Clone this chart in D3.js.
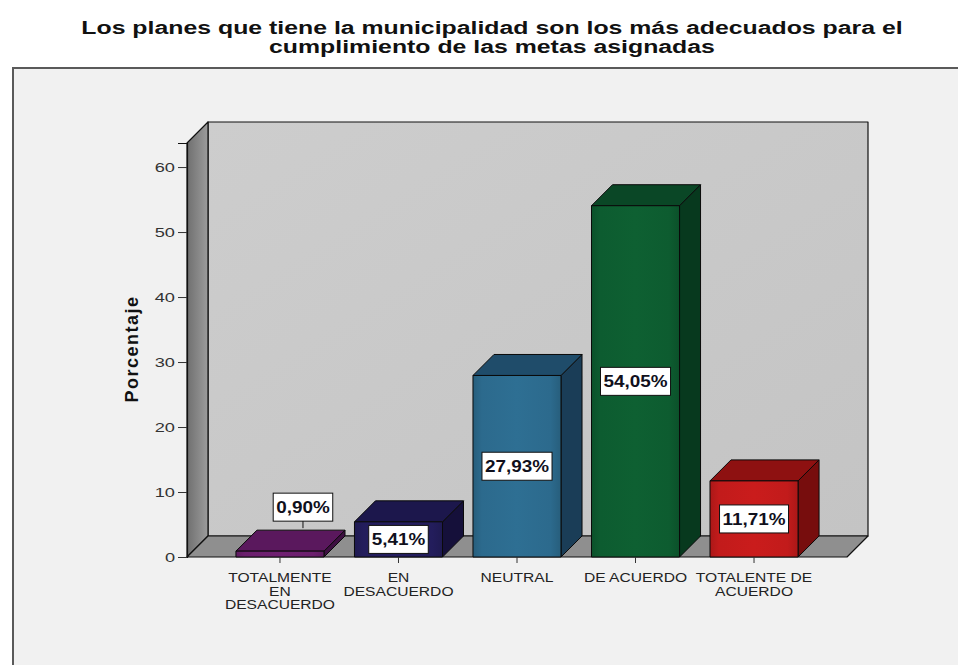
<!DOCTYPE html>
<html>
<head>
<meta charset="utf-8">
<script src="https://cdn.jsdelivr.net/npm/d3@7/dist/d3.min.js"></script>
<style>
  html, body { margin: 0; padding: 0; background: #ffffff; }
  svg { display: block; font-family: Arial, "Liberation Sans", sans-serif; }
</style>
</head>
<body>
<svg id="chart" width="958" height="665"></svg>
<script>
// Survey answers and their share of respondents (%)
const categories = ["TOTALMENTE EN DESACUERDO", "EN DESACUERDO", "NEUTRAL", "DE ACUERDO", "TOTALENTE DE ACUERDO"];
const categoryLines = [["TOTALMENTE", "EN", "DESACUERDO"], ["EN", "DESACUERDO"], ["NEUTRAL"], ["DE ACUERDO"], ["TOTALENTE DE", "ACUERDO"]];
const percentages = [0.90, 5.41, 27.93, 54.05, 11.71];
const valueLabels = ["0,90%", "5,41%", "27,93%", "54,05%", "11,71%"];
const yTicks = [0, 10, 20, 30, 40, 50, 60];
const titleLines = ["Los planes que tiene la municipalidad son los más adecuados para el", "cumplimiento de las metas asignadas"];
const yTitle = "Porcentaje";

// face colours per bar: front, top, side
const barColors = [
  { front: "#6b1f6d", top: "#5a185d", side: "#3e0f42" },
  { front: "#231d5c", top: "#1c174c", side: "#15103a" },
  { front: "#2c6a8d", top: "#1f4c6a", side: "#1a3d57" },
  { front: "#0d5c30", top: "#0a4726", side: "#07391e" },
  { front: "#c21b1b", top: "#8e1111", side: "#770d0d" }
];

const svg = d3.select("#chart");

// widen glyphs horizontally (the chart's wide lettering)
function widen(sel, factor) {
  sel.each(function () {
    const len = this.getComputedTextLength();
    d3.select(this).attr("textLength", len * factor).attr("lengthAdjust", "spacingAndGlyphs");
  });
}

// outer chart frame
svg.append("rect").attr("x", 13).attr("y", 68).attr("width", 960).attr("height", 620)
  .attr("fill", "#f1f1f1").attr("stroke", "#5a5a5a").attr("stroke-width", 2);

// title
const title = svg.append("text").attr("text-anchor", "middle")
  .attr("font-size", 18).attr("font-weight", "bold").attr("fill", "#111");
titleLines.forEach((t, i) => {
  title.append("tspan").attr("x", 492).attr("y", 34 + i * 19).text(t);
});
widen(title.selectAll("tspan"), 1.38);

// 3D plot geometry
const left = 187, right = 847, bottom = 557;
const depth = { dx: 21, dy: -21 };
const y = d3.scaleLinear().domain([0, 63.7]).range([bottom, 143]);
const x = d3.scaleBand().domain(categories).range([left, right])
  .paddingInner(0.257).paddingOuter(0.413);

const defs = svg.append("defs");
const sideGrad = defs.append("linearGradient").attr("id", "sideWall").attr("x1", 0).attr("x2", 1).attr("y1", 0).attr("y2", 0);
sideGrad.append("stop").attr("offset", "0%").attr("stop-color", "#6f6f6f");
sideGrad.append("stop").attr("offset", "100%").attr("stop-color", "#9c9c9c");
const backGrad = defs.append("linearGradient").attr("id", "backWall").attr("x1", 0).attr("x2", 1).attr("y1", 0).attr("y2", 1);
backGrad.append("stop").attr("offset", "0%").attr("stop-color", "#cdcdcd");
backGrad.append("stop").attr("offset", "100%").attr("stop-color", "#c4c4c4");

const plotTop = y.range()[1];
const poly = pts => pts.map(p => p.join(",")).join(" ");
const walls = svg.append("g").attr("stroke", "#111").attr("stroke-width", 1.2).attr("stroke-linejoin", "round");

// back wall
walls.append("polygon").attr("fill", "url(#backWall)")
  .attr("points", poly([[left + depth.dx, plotTop + depth.dy], [right + depth.dx, plotTop + depth.dy],
                        [right + depth.dx, bottom + depth.dy], [left + depth.dx, bottom + depth.dy]]));
// side wall
walls.append("polygon").attr("fill", "url(#sideWall)")
  .attr("points", poly([[left, plotTop], [left + depth.dx, plotTop + depth.dy],
                        [left + depth.dx, bottom + depth.dy], [left, bottom]]));
// floor
walls.append("polygon").attr("fill", "#8f8f8f")
  .attr("points", poly([[left, bottom], [left + depth.dx, bottom + depth.dy],
                        [right + depth.dx, bottom + depth.dy], [right, bottom]]));

// y axis
const yAxis = svg.append("g").attr("transform", `translate(${left},0)`)
  .call(d3.axisLeft(y).tickValues(yTicks).tickSize(9).tickPadding(3).tickFormat(d3.format("d")));
yAxis.select(".domain").attr("stroke", "#111").attr("stroke-width", 1.2);
yAxis.selectAll(".tick line").attr("stroke", "#333");
yAxis.selectAll(".tick text").attr("font-size", 13).attr("fill", "#333")
  .attr("font-family", "Arial, 'Liberation Sans', sans-serif");
widen(yAxis.selectAll(".tick text"), 1.4);

svg.append("text").attr("transform", `translate(138,349) rotate(-90)`)
  .attr("text-anchor", "middle").attr("font-size", 18).attr("font-weight", "bold")
  .attr("letter-spacing", 1.5).attr("fill", "#111").text(yTitle);

// bar front gradients
barColors.forEach((c, i) => {
  const g = defs.append("linearGradient").attr("id", "front" + i).attr("x1", 0).attr("x2", 1).attr("y1", 0).attr("y2", 0);
  const dark = d3.color(c.front).darker(0.35).formatHex();
  const light = d3.color(c.front).brighter(0.12).formatHex();
  g.append("stop").attr("offset", "0%").attr("stop-color", dark);
  g.append("stop").attr("offset", "10%").attr("stop-color", c.front);
  g.append("stop").attr("offset", "50%").attr("stop-color", light);
  g.append("stop").attr("offset", "88%").attr("stop-color", c.front);
  g.append("stop").attr("offset", "100%").attr("stop-color", dark);
});

// 3D bars
const bw = x.bandwidth();
const bars = svg.append("g").selectAll("g").data(categories).join("g")
  .attr("stroke", "#0a0a0a").attr("stroke-width", 1).attr("stroke-linejoin", "round");
bars.each(function (cat, i) {
  const g = d3.select(this);
  const x0 = x(cat), x1 = x0 + bw, yt = y(percentages[i]);
  g.append("polygon").attr("fill", barColors[i].side)
    .attr("points", poly([[x1, yt], [x1 + depth.dx, yt + depth.dy], [x1 + depth.dx, bottom + depth.dy], [x1, bottom]]));
  g.append("polygon").attr("fill", barColors[i].top)
    .attr("points", poly([[x0, yt], [x0 + depth.dx, yt + depth.dy], [x1 + depth.dx, yt + depth.dy], [x1, yt]]));
  g.append("rect").attr("x", x0).attr("y", yt).attr("width", bw).attr("height", bottom - yt)
    .attr("fill", `url(#front${i})`);
});

// x axis ticks and wrapped category labels
const xAxis = svg.append("g");
categories.forEach((cat, i) => {
  const cx = x(cat) + bw / 2;
  xAxis.append("line").attr("x1", cx).attr("x2", cx).attr("y1", bottom).attr("y2", bottom + 6)
    .attr("stroke", "#333").attr("stroke-width", 1);
  const t = xAxis.append("text").attr("text-anchor", "middle").attr("font-size", 12)
    .attr("fill", "#222");
  categoryLines[i].forEach((line, j) => {
    t.append("tspan").attr("x", cx).attr("y", bottom + 25 + j * 13.5).text(line);
  });
  widen(t.selectAll("tspan"), 1.3);
});

// value labels: in the middle of each bar, above it when the bar is too short
const labels = svg.append("g");
categories.forEach((cat, i) => {
  const v = percentages[i];
  const cx = x(cat) + bw / 2;
  const small = (bottom - y(v)) < 20;
  const lx = small ? cx + depth.dx + 2 : cx;
  const ly = small ? y(v) - 44 : y(v / 2);
  const g = labels.append("g");
  const txt = g.append("text").attr("x", lx).attr("y", ly + 6).attr("text-anchor", "middle")
    .attr("font-size", 16).attr("font-weight", "bold")
    .attr("fill", "#10101c").text(valueLabels[i]);
  widen(txt, 1.18);
  const bb = txt.node().getBBox();
  g.insert("rect", "text").attr("x", bb.x - 3).attr("y", ly - 14).attr("width", bb.width + 6).attr("height", 28)
    .attr("fill", "#ffffff").attr("stroke", "#111").attr("stroke-width", 1);
  if (small) {
    g.append("line").attr("x1", lx).attr("x2", lx).attr("y1", ly + 14).attr("y2", ly + 21)
      .attr("stroke", "#111").attr("stroke-width", 1);
  }
});
</script>
</body>
</html>
